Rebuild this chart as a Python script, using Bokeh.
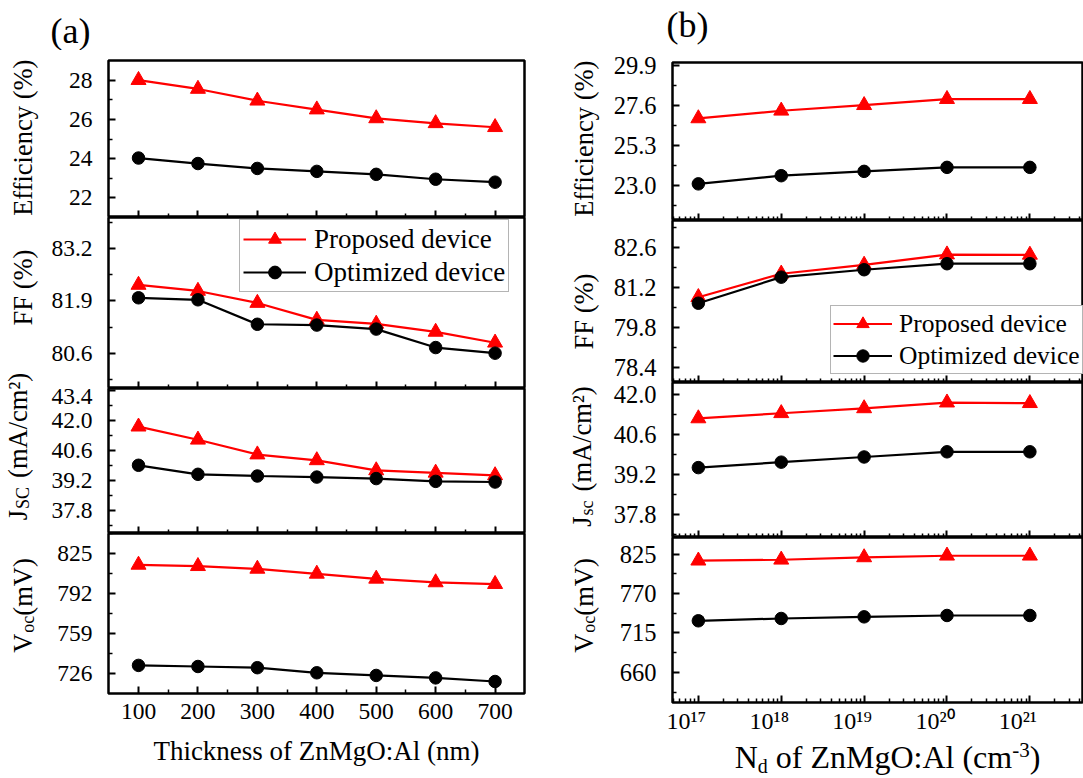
import math
from bokeh.plotting import figure
from bokeh.models import (Range1d, FixedTicker, NumeralTickFormatter, Label, Legend, LegendItem,
                          CustomLabelingPolicy, CustomJSTickFormatter)
from bokeh.layouts import row, column
from bokeh.embed import file_html
from bokeh.resources import INLINE

# ---------------- data ----------------
thickness = [100, 200, 300, 400, 500, 600, 700]
eff_prop_a = [28.0, 27.55, 26.95, 26.5, 26.05, 25.8, 25.6]
eff_opt_a = [24.03, 23.75, 23.5, 23.35, 23.2, 22.95, 22.8]
ff_prop_a = [82.3, 82.15, 81.85, 81.43, 81.33, 81.13, 80.86]
ff_opt_a = [81.98, 81.93, 81.32, 81.3, 81.2, 80.74, 80.6]
jsc_prop_a = [41.72, 41.11, 40.42, 40.15, 39.68, 39.57, 39.45]
jsc_opt_a = [39.92, 39.5, 39.42, 39.37, 39.3, 39.17, 39.14]
voc_prop_a = [815.9, 814.8, 812.6, 808.5, 804.4, 801.4, 800.0]
voc_opt_a = [732.9, 732.0, 731.0, 726.8, 724.6, 722.6, 719.6]

nd = [1e17, 1e18, 1e19, 1e20, 1e21]
nd_exponents = [17, 18, 19, 20, 21]
eff_prop_b = [26.87, 27.31, 27.63, 27.98, 27.98]
eff_opt_b = [23.1, 23.57, 23.82, 24.05, 24.05]
ff_prop_b = [80.85, 81.67, 81.98, 82.34, 82.33]
ff_opt_b = [80.64, 81.55, 81.81, 82.02, 82.02]
jsc_prop_b = [41.15, 41.33, 41.5, 41.7, 41.68]
jsc_opt_b = [39.44, 39.63, 39.81, 39.99, 39.99]
voc_prop_b = [815.7, 817.0, 820.3, 822.6, 822.6]
voc_opt_b = [732.0, 735.2, 737.5, 739.4, 739.4]

# tick values
x_ticks_a = [100, 200, 300, 400, 500, 600, 700]
x_minor_a = [150, 250, 350, 450, 550, 650]
eff_ticks_a = [22, 24, 26, 28]
eff_minor_a = [23, 25, 27]
ff_ticks_a = [80.6, 81.9, 83.2]
ff_minor_a = [79.95, 81.25, 82.55, 83.85]
jsc_ticks_a = [37.8, 39.2, 40.6, 42.0, 43.4]
jsc_minor_a = [37.1, 38.5, 39.9, 41.3, 42.7]
voc_ticks_a = [726, 759, 792, 825]
voc_minor_a = [742.5, 775.5, 808.5, 841.5]

eff_ticks_b = [23.0, 25.3, 27.6, 29.9]
eff_minor_b = [21.85, 24.15, 26.45, 28.75]
ff_ticks_b = [78.4, 79.8, 81.2, 82.6]
ff_minor_b = [79.1, 80.5, 81.9, 83.3]
jsc_ticks_b = [37.8, 39.2, 40.6, 42.0]
jsc_minor_b = [37.1, 38.5, 39.9, 41.3]
voc_ticks_b = [660, 715, 770, 825]
voc_minor_b = [632.5, 687.5, 742.5, 797.5]
x_major_b = [10.0 ** e for e in nd_exponents]
x_minor_b = [m * 10.0 ** e for e in range(16, 22) for m in range(2, 10)]

FONT = "Liberation Serif"
RED = "#ff0000"
BLACK = "#000000"

# ---------------- geometry (canvas px) ----------------
H, W = 778, 1083
TOP = 50                       # height of the strip holding (a) / (b)
A_X0, A_FL, A_FR, A_X1 = 45, 108, 524, 540
A_Y = [60, 217, 388, 533, 693]
B_X0, B_FL, B_FR, B_X1 = 606, 672, 1083, 1083
B_Y = [62, 220, 382, 537, 702]
B_AX = 736                     # bottom of the tick-label band of panel (b)
LOG_LO, LOG_HI = 16.688, 21.647
BASE_SHIFT = 0.31              # svg alphabetic-baseline compensation (em)

CW = {' ': 0.25, '(': 0.333, ')': 0.333, '%': 0.833, '/': 0.278, '-': 0.333, ':': 0.278,
      '.': 0.25, '\u00b2': 0.3, 'A': 0.722, 'C': 0.667, 'E': 0.611, 'F': 0.556, 'J': 0.389,
      'M': 0.889, 'N': 0.722, 'O': 0.722, 'S': 0.556, 'T': 0.611, 'V': 0.722, 'Z': 0.611,
      'a': 0.444, 'c': 0.444, 'd': 0.5, 'e': 0.444, 'f': 0.333, 'g': 0.5, 'h': 0.5, 'i': 0.278,
      'k': 0.5, 'l': 0.278, 'm': 0.778, 'n': 0.5, 'o': 0.5, 'p': 0.5, 'r': 0.333, 's': 0.389,
      't': 0.278, 'v': 0.5, 'y': 0.5, 'z': 0.444}


def tw(s, fs):
    return sum(CW.get(ch, 0.5) for ch in s) * fs


NO_LABELS = CustomLabelingPolicy(code="for (const i of indices) { indices.unset(i) }")

POW10 = CustomJSTickFormatter(code="""
const sup = {"0": "\u2070", "1": "\u00b9", "2": "\u00b2", "3": "\u00b3", "4": "\u2074",
             "5": "\u2075", "6": "\u2076", "7": "\u2077", "8": "\u2078", "9": "\u2079"};
const e = Math.round(Math.log10(tick));
return "10" + String(e).split("").map((c) => sup[c]).join("") + "\u00a0\u00a0\u00a0\u00a0";
""")


def plain_fig(width, height, xr, yr, **kw):
    p = figure(width=width, height=height, x_range=xr, y_range=yr, output_backend="svg",
               toolbar_location=None, min_border=0, x_axis_location=None,
               y_axis_location=None, **kw)
    p.grid.visible = False
    p.outline_line_color = None
    p.background_fill_color = "white"
    p.border_fill_color = "white"
    return p


def make_fig(x0, fl, fr, x1, ytop, ybot, top_b, bot_b, xr, yr, log=False):
    p = figure(width=x1 - x0, height=top_b + (ybot - ytop) + bot_b, x_range=xr, y_range=yr,
               x_axis_type="log" if log else "linear", output_backend="svg",
               toolbar_location=None, min_border_left=fl - x0, min_border_right=x1 - fr,
               min_border_top=top_b, min_border_bottom=bot_b)
    p.grid.visible = False
    p.outline_line_color = "black"
    p.outline_line_width = 2.5
    p.background_fill_color = "white"
    p.border_fill_color = "white"
    return p


def style_axis(ax, ticks, minor, fs, formatter, show_labels=True, standoff=16):
    ax.ticker = FixedTicker(ticks=ticks, minor_ticks=minor)
    ax.major_tick_in = 7
    ax.major_tick_out = 0
    ax.minor_tick_in = 4
    ax.minor_tick_out = 0
    ax.major_tick_line_width = 2
    ax.minor_tick_line_width = 1.5
    ax.major_tick_line_color = "black"
    ax.minor_tick_line_color = "black"
    ax.axis_line_color = None
    ax.formatter = formatter
    ax.major_label_text_font = FONT
    ax.major_label_text_color = "black"
    if show_labels:
        ax.major_label_text_font_size = f"{fs}px"
        ax.major_label_standoff = standoff
    else:
        ax.major_label_text_font_size = "0px"
        ax.major_label_standoff = 0
        ax.major_label_policy = NO_LABELS


def add_series(p, x, yp, yo):
    lp = p.line(x, yp, line_color=RED, line_width=2.2)
    sp = p.scatter(x, yp, marker="triangle", size=15, fill_color=RED, line_color=RED)
    lo = p.line(x, yo, line_color=BLACK, line_width=2.2)
    so = p.scatter(x, yo, marker="circle", size=12.5, fill_color=BLACK, line_color=BLACK)
    return [lp, sp], [lo, so]


def add_legend(p, rp, ro, loc, fs, gw, gh, standoff, padding):
    leg = Legend(items=[LegendItem(label="Proposed device", renderers=rp),
                        LegendItem(label="Optimized device", renderers=ro)],
                 location=loc, orientation="vertical")
    leg.label_text_font = FONT
    leg.label_text_font_size = f"{fs}px"
    leg.label_text_color = "black"
    leg.glyph_width = gw
    leg.glyph_height = gh
    leg.label_height = gh
    leg.label_standoff = standoff
    leg.spacing = 1
    leg.padding = padding
    leg.margin = 0
    leg.border_line_color = "#6a6a6a"
    leg.border_line_width = 1.2
    leg.background_fill_color = "white"
    leg.background_fill_alpha = 1.0
    p.add_layout(leg, "center")


def hlabel(p, x, base_y, text, fs, align="left"):
    p.add_layout(Label(x=x, y=base_y - BASE_SHIFT * fs, text=text, text_align=align,
                       text_baseline="alphabetic", text_font=FONT,
                       text_font_size=f"{fs}px", text_color="black"))


# ---------------- top strip with panel letters ----------------
top = plain_fig(W, TOP, Range1d(0, W), Range1d(TOP, 0))
hlabel(top, 50, 42, "(a)", 36)
hlabel(top, 666, 36, "(b)", 36)

# ---------------- panel (a) ----------------
xr_a = Range1d(49.5, 749.5)
yr_a = [Range1d(21.0, 29.0), Range1d(79.72, 83.98), Range1d(36.74, 43.5), Range1d(709.7, 841.8)]
ticks_a = [(eff_ticks_a, eff_minor_a, "0"), (ff_ticks_a, ff_minor_a, "0.0"),
           (jsc_ticks_a, jsc_minor_a, "0.0"), (voc_ticks_a, voc_minor_a, "0")]
series_a = [(eff_prop_a, eff_opt_a), (ff_prop_a, ff_opt_a), (jsc_prop_a, jsc_opt_a), (voc_prop_a, voc_opt_a)]
figs_a = []
for i in range(4):
    top_b = A_Y[0] - TOP if i == 0 else 0
    bot_b = H - A_Y[4] if i == 3 else 0
    p = make_fig(A_X0, A_FL, A_FR, A_X1, A_Y[i], A_Y[i + 1], top_b, bot_b, xr_a, yr_a[i])
    style_axis(p.yaxis[0], ticks_a[i][0], ticks_a[i][1], 23.5, NumeralTickFormatter(format=ticks_a[i][2]))
    style_axis(p.xaxis[0], x_ticks_a, x_minor_a, 23.5, NumeralTickFormatter(format="0"),
               show_labels=(i == 3), standoff=10)
    rp, ro = add_series(p, thickness, series_a[i][0], series_a[i][1])
    if i == 1:
        add_legend(p, rp, ro, (239 - A_FL, A_Y[2] - 292), 27, 63, 32, 8, 3)
    figs_a.append(p)

ax = figs_a[3].xaxis[0]
ax.axis_label = "Thickness of ZnMgO:Al (nm)"
ax.axis_label_text_font = FONT
ax.axis_label_text_font_size = "27px"
ax.axis_label_text_font_style = "normal"
ax.axis_label_text_color = "black"
ax.axis_label_standoff = 14

# ---------------- panel (b) ----------------
xr_b = Range1d(10 ** LOG_LO, 10 ** LOG_HI)
yr_b = [Range1d(20.99, 30.09), Range1d(77.87, 83.53), Range1d(37.01, 42.4), Range1d(618.2, 848.0)]
ticks_b = [(eff_ticks_b, eff_minor_b, "0.0"), (ff_ticks_b, ff_minor_b, "0.0"),
           (jsc_ticks_b, jsc_minor_b, "0.0"), (voc_ticks_b, voc_minor_b, "0")]
series_b = [(eff_prop_b, eff_opt_b), (ff_prop_b, ff_opt_b), (jsc_prop_b, jsc_opt_b), (voc_prop_b, voc_opt_b)]
figs_b = []
for i in range(4):
    top_b = B_Y[0] - TOP if i == 0 else 0
    bot_b = B_AX - B_Y[4] if i == 3 else 0
    p = make_fig(B_X0, B_FL, B_FR, B_X1, B_Y[i], B_Y[i + 1], top_b, bot_b, xr_b, yr_b[i], log=True)
    style_axis(p.yaxis[0], ticks_b[i][0], ticks_b[i][1], 24.5, NumeralTickFormatter(format=ticks_b[i][2]))
    if i == 3:
        style_axis(p.xaxis[0], x_major_b, x_minor_b, 24, POW10, show_labels=True, standoff=5)
    else:
        style_axis(p.xaxis[0], x_major_b, x_minor_b, 24, NumeralTickFormatter(format="0"),
                   show_labels=False)
    rp, ro = add_series(p, nd, series_b[i][0], series_b[i][1])
    if i == 1:
        add_legend(p, rp, ro, (830 - B_FL, B_Y[2] - 374), 25.5, 59, 31, 7, 2)
    figs_b.append(p)

# strip below panel (b): x title (data y = canvas y)
sb = figure(width=B_X1 - B_X0, height=H - B_AX, x_axis_type="log",
            x_range=Range1d(10 ** LOG_LO, 10 ** LOG_HI), y_range=Range1d(H, B_AX),
            output_backend="svg", toolbar_location=None, min_border=0,
            min_border_left=B_FL - B_X0, min_border_right=B_X1 - B_FR,
            x_axis_location=None, y_axis_location=None)
sb.grid.visible = False
sb.outline_line_color = None
sb.background_fill_color = "white"
sb.border_fill_color = "white"
k = (LOG_HI - LOG_LO) / (B_FR - B_FL)


def cx_to_data(cx):
    return 10 ** (LOG_LO + (cx - B_FL) * k)


# parts: text, size, vertical shift, gap before
parts = [("N", 32, 0, 0), ("d", 20, 6, 0), ("of ZnMgO:Al (cm", 32, 0, 8), ("-3", 21, -10, 0), (")", 32, 0, 0)]
total = sum(tw(t, fs) + g for t, fs, d, g in parts)
cx = 887 - total / 2
for t, fs, d, g in parts:
    cx += g
    hlabel(sb, cx_to_data(cx), 766 + d, t, fs)
    cx += tw(t, fs)


# ---------------- y-axis title strips ----------------
def vtitle(p, parts, xb, yc):
    total = sum(tw(t, fs) + g for t, fs, d, g in parts)
    y = yc + total / 2
    for t, fs, d, g in parts:
        y -= g
        p.add_layout(Label(x=xb + d, y=y, text=t, angle=math.pi / 2, text_align="left",
                           text_baseline="alphabetic", text_font=FONT,
                           text_font_size=f"{fs}px", text_color="black"))
        y -= tw(t, fs)


TF = 26.5
ta = plain_fig(A_X0, H - TOP, Range1d(0, A_X0), Range1d(H, TOP))
vtitle(ta, [("Efficiency (%)", TF, 0, 0)], 22, 137)
vtitle(ta, [("FF (%)", TF, 0, 0)], 22, 287)
vtitle(ta, [("J", TF, 0, 0), ("SC", 18, 5, 1), ("(mA/cm\u00b2)", TF, 0, 9)], 17, 446)
vtitle(ta, [("V", TF, 0, 0), ("oc", 18, 5, 1), ("(mV)", TF, 0, 0)], 22, 605)

tb = plain_fig(B_X0 - A_X1, H - TOP, Range1d(A_X1, B_X0), Range1d(H, TOP))
vtitle(tb, [("Efficiency (%)", TF, 0, 0)], 583, 138)
vtitle(tb, [("FF (%)", TF, 0, 0)], 583, 311)
vtitle(tb, [("J", TF, 0, 0), ("sc", 18, 5, 1), ("(mA/cm\u00b2)", TF, 0, 9)], 581, 456)
vtitle(tb, [("V", TF, 0, 0), ("oc", 18, 5, 1), ("(mV)", TF, 0, 0)], 583, 605)

layout = column(top, row(ta, column(*figs_a), tb, column(*figs_b, sb)))
open("out.html", "w").write(file_html(layout, INLINE, "ZnMgO:Al"))
